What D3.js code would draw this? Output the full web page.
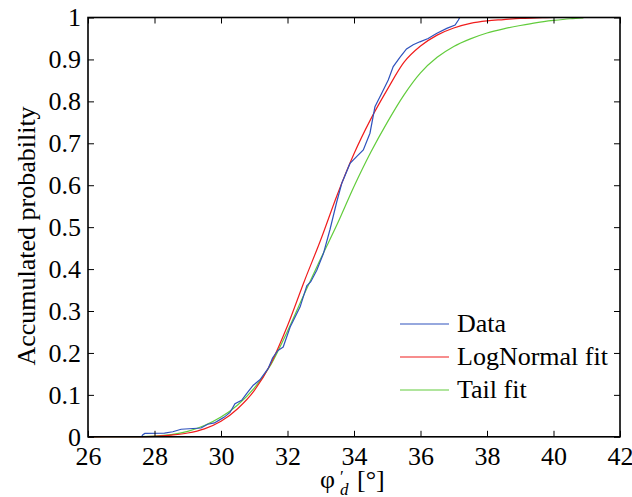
<!DOCTYPE html>
<html><head><meta charset="utf-8">
<script src="https://cdn.jsdelivr.net/npm/d3@7"></script>
</head><body style="margin:0"><svg id="c" width="632" height="497"></svg>
<script>
const xTicks = [26,28,30,32,34,36,38,40,42];
const yTicks = [0,0.1,0.2,0.3,0.4,0.5,0.6,0.7,0.8,0.9,1];
const yTickLabels = ["0","0.1","0.2","0.3","0.4","0.5","0.6","0.7","0.8","0.9","1"];

const dataX = [27.61,27.65,27.71,28.3,28.55,28.8,29.4,29.6,29.8,29.97,30.1,30.27,30.42,30.62,30.77,30.97,31.17,31.42,31.55,31.7,31.87,32.08,32.38,32.58,32.7,32.88,33.08,33.28,33.48,33.63,33.88,34.1,34.28,34.48,34.63,34.83,35.03,35.18,35.38,35.58,35.78,35.98,36.23,36.48,36.79,37.04,37.14,37.18];
const dataP = [0,0.005,0.008,0.009,0.012,0.018,0.021,0.03,0.033,0.041,0.047,0.058,0.079,0.087,0.103,0.123,0.136,0.163,0.188,0.205,0.214,0.262,0.31,0.36,0.37,0.397,0.437,0.495,0.56,0.604,0.652,0.67,0.684,0.724,0.787,0.819,0.851,0.883,0.905,0.925,0.935,0.942,0.95,0.962,0.974,0.982,0.994,1.0];

const fitX = [26,27,27.5,28,28.5,29,29.5,30,30.5,31,31.5,32,32.5,33,33.5,34,34.5,35,35.5,36,36.5,37,37.5,38,38.5,39,39.5,40,40.5,40.9];
const logNormalP = [0,0.0002,0.0005,0.001,0.004,0.009,0.019,0.037,0.067,0.11,0.175,0.265,0.37,0.47,0.578,0.675,0.757,0.828,0.893,0.932,0.958,0.975,0.986,0.992,0.995,0.998,0.999,1,1,1];
const tailP = [0,0.0002,0.0005,0.0015,0.005,0.013,0.027,0.047,0.076,0.116,0.172,0.252,0.34,0.425,0.508,0.597,0.678,0.75,0.815,0.868,0.905,0.931,0.949,0.963,0.973,0.981,0.988,0.993,0.997,0.999];

const legendLabels = ["Data","LogNormal fit","Tail fit"];
const colors = ["#2f52bd","#f01c1c","#62cc3c"];
const FONT = "Liberation Serif";

const svg = d3.select("#c");
const L=88, R=620, T=17.5, B=436.8;
const x = d3.scaleLinear().domain([26,42]).range([L,R]);
const y = d3.scaleLinear().domain([0,1]).range([B,T]);

const g = svg.append("g");
const line = d3.line().x(d=>x(d[0])).y(d=>y(d[1])).curve(d3.curveMonotoneX);
[[fitX,tailP,colors[2],false],[fitX,logNormalP,colors[1],false],[dataX,dataP,colors[0],true]].forEach(([xs,ps,c,lin])=>{
  const ln = lin ? d3.line().x(d=>x(d[0])).y(d=>y(d[1])) : line;
  g.append("path").attr("d", ln(xs.map((v,i)=>[v,ps[i]]))).attr("fill","none").attr("stroke",c).attr("stroke-width",1.2);
});

const tl = 6;
const gb = svg.append("g").attr("transform",`translate(0,${B})`).call(d3.axisBottom(x).tickValues(xTicks).tickSizeInner(-tl).tickSizeOuter(0).tickFormat(d3.format("d")));
svg.append("g").attr("transform",`translate(0,${T})`).call(d3.axisTop(x).tickValues(xTicks).tickSizeInner(-tl).tickSizeOuter(0).tickFormat(""));
const gl = svg.append("g").attr("transform",`translate(${L},0)`).call(d3.axisLeft(y).tickValues(yTicks).tickSizeInner(-tl).tickSizeOuter(0).tickFormat((d,i)=>yTickLabels[i]));
svg.append("g").attr("transform",`translate(${R},0)`).call(d3.axisRight(y).tickValues(yTicks).tickSizeInner(-tl).tickSizeOuter(0).tickFormat(""));
svg.selectAll(".domain").remove();
svg.selectAll(".tick line").attr("stroke","#000").attr("stroke-width",1);
gb.attr("font-family",null).attr("font-size",null);
gl.attr("font-family",null).attr("font-size",null);
gb.selectAll(".tick text").style("font-family",FONT).style("font-size","26px").attr("fill","#000").attr("y",10).attr("dy","0.71em");
gl.selectAll(".tick text").style("font-family",FONT).style("font-size","26px").attr("fill","#000").attr("x",-7).attr("dy","0.32em");
svg.append("rect").attr("x",L).attr("y",T).attr("width",R-L).attr("height",B-T).attr("fill","none").attr("stroke","#000").attr("stroke-width",1.6);

legendLabels.forEach((t,i)=>{
  const yy = 324 + i*33;
  svg.append("line").attr("x1",400).attr("x2",449).attr("y1",yy).attr("y2",yy).attr("stroke",colors[i]).attr("stroke-width",1.2);
  svg.append("text").attr("x",457).attr("y",yy+8).style("font-family",FONT).style("font-size","26px").text(t);
});

svg.append("text").attr("transform","translate(35,236) rotate(-90)").attr("text-anchor","middle").style("font-family",FONT).style("font-size","26px").text("Accumulated probability");
svg.append("text").attr("x",320).attr("y",488).style("font-family",FONT).style("font-size","26px").text("φ");
svg.append("text").attr("x",340).attr("y",482).style("font-family",FONT).style("font-size","17px").text("′");
svg.append("text").attr("x",340).attr("y",495).style("font-family",FONT).style("font-size","17px").style("font-style","italic").text("d");
svg.append("text").attr("x",357).attr("y",488).style("font-family",FONT).style("font-size","26px").text("[°]");
</script></body></html>
